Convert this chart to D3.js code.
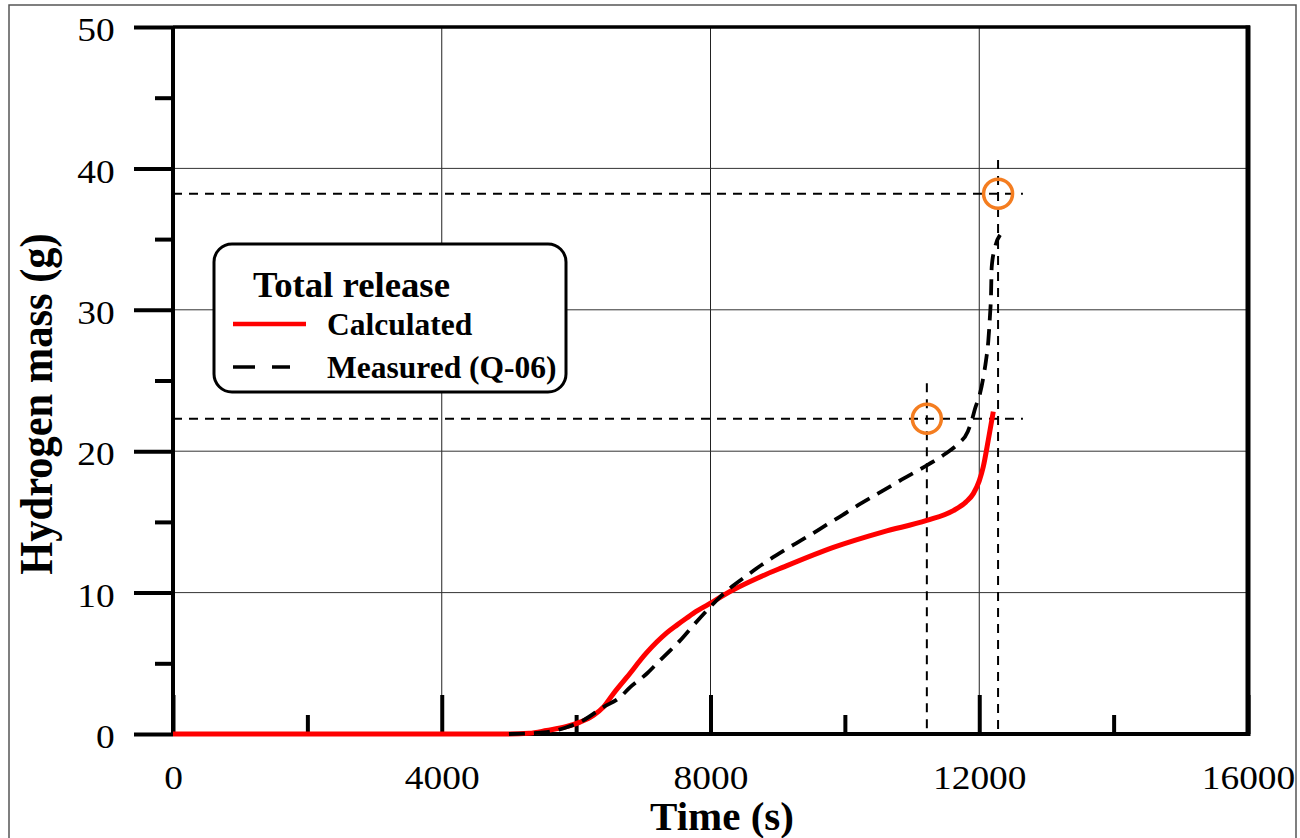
<!DOCTYPE html>
<html>
<head>
<meta charset="utf-8">
<script src="https://cdn.jsdelivr.net/npm/d3@7"></script>
<style>
  html, body { margin: 0; padding: 0; background: #fff; }
  svg { display: block; }
  text { font-family: "Liberation Serif", "Times New Roman", serif; fill: #000; }
</style>
</head>
<body>
<svg id="chart" width="1300" height="838"></svg>
<script>
// ---------------- data ----------------
const calcTime  = [0, 5000, 5300, 5560, 5860, 6058, 6256, 6405, 6554, 6753, 7050, 7200, 7348, 7500, 7646, 7800, 7944, 8340, 8688, 9084, 9828, 10572, 11218, 11614, 11800, 11912, 12000, 12060, 12135, 12209];
const calcMass  = [0, 0, 0.05, 0.25, 0.53, 0.84, 1.31, 1.9, 2.85, 4.0, 5.75, 6.5, 7.15, 7.7, 8.2, 8.7, 9.1, 10.2, 11.0, 11.8, 13.2, 14.3, 15.1, 15.8, 16.4, 17.0, 17.9, 18.9, 20.8, 22.8];

const measTime  = [5000, 5560, 5860, 6058, 6405, 6653, 6802, 7050, 7199, 7398, 7546, 7744, 7993, 8141, 8340, 8539, 8836, 9084, 9440, 9730, 9970, 10100, 10490, 10850, 11220, 11490, 11680, 11830, 11890, 11937, 12012, 12060, 12100, 12135, 12160, 12175, 12185, 12234, 12310];
const measMass  = [0, 0.13, 0.48, 0.84, 1.9, 2.6, 3.3, 4.26, 4.97, 5.9, 6.6, 7.68, 8.97, 9.68, 10.5, 11.2, 12.2, 12.95, 13.95, 14.8, 15.5, 15.9, 17.0, 18.0, 19.0, 19.8, 20.5, 21.4, 22.2, 23.0, 24.1, 25.2, 26.4, 27.8, 29.6, 31.0, 33.0, 34.4, 35.3];

const refLevels   = [22.3, 38.2];          // horizontal dashed guide lines
const refLevelEnd = 12650;                 // where they stop (s)
const refTimes    = [11220, 12280];        // vertical dashed guide lines
const refTops     = [24.8, 40.6];          // their top values (g)
const markTime    = [11220, 12280];        // orange circles
const markMass    = [22.3, 38.2];

const xMajor = [0, 4000, 8000, 12000, 16000];
const xMinor = [2000, 6000, 10000, 14000];
const yMajor = [0, 10, 20, 30, 40, 50];
const yMinor = [5, 15, 25, 35, 45];
const xGrid  = [4000, 8000, 12000];
const yGrid  = [10, 20, 30, 40];

const legendTitle = "Total release";
const legendItems = ["Calculated", "Measured (Q-06)"];
const xTitle = "Time (s)";
const yTitle = "Hydrogen mass (g)";

// ---------------- layout ----------------
const svg = d3.select("#chart");
const L = 173, R = 1248, T = 27, B = 734;
const x = d3.scaleLinear().domain([0, 16000]).range([L, R]);
const y = d3.scaleLinear().domain([0, 50]).range([B, T]);

svg.append("rect").attr("width", 1300).attr("height", 838).attr("fill", "#fff");

// outer frame
svg.append("rect").attr("x", 9).attr("y", 5).attr("width", 1287).attr("height", 900)
  .attr("fill", "none").attr("stroke", "#555").attr("stroke-width", 1.5);

// gridlines
svg.append("g").selectAll("line").data(xGrid).join("line")
  .attr("x1", d => x(d)).attr("x2", d => x(d)).attr("y1", T).attr("y2", B)
  .attr("stroke", "#222").attr("stroke-width", 1);
svg.append("g").selectAll("line").data(yGrid).join("line")
  .attr("x1", L).attr("x2", R).attr("y1", d => y(d)).attr("y2", d => y(d))
  .attr("stroke", "#333").attr("stroke-width", 1);

// top & right borders
svg.append("line").attr("x1", L).attr("x2", R + 2).attr("y1", T).attr("y2", T)
  .attr("stroke", "#000").attr("stroke-width", 3.5);
svg.append("line").attr("x1", R).attr("x2", R).attr("y1", T - 1.5).attr("y2", B + 2)
  .attr("stroke", "#000").attr("stroke-width", 5);

// reference dashed lines
const ref = svg.append("g").attr("stroke", "#000").attr("stroke-width", 2)
  .attr("stroke-dasharray", "9,7").attr("fill", "none");
ref.selectAll("line.h").data(refLevels).join("line").attr("class", "h")
  .attr("x1", x(0)).attr("x2", x(refLevelEnd)).attr("y1", d => y(d)).attr("y2", d => y(d));
ref.selectAll("line.v").data(refTimes).join("line").attr("class", "v")
  .attr("x1", d => x(d)).attr("x2", d => x(d)).attr("y1", (d, i) => y(refTops[i])).attr("y2", y(0));

// axes
const fs = 34;
const xAx = svg.append("g").attr("transform", `translate(0,${B})`)
  .call(d3.axisBottom(x).tickValues(xMajor).tickSize(-39).tickPadding(31).tickFormat(d3.format("d")));
xAx.select(".domain").attr("stroke-width", 4).attr("d", `M${L},0H${R + 2}`);
xAx.selectAll(".tick line").attr("stroke-width", 4);
xAx.selectAll(".tick text").attr("font-size", fs).attr("font-family", "Liberation Serif")
  .attr("transform", "scale(1.1,1)");

const xAxMin = svg.append("g").attr("transform", `translate(0,${B})`)
  .call(d3.axisBottom(x).tickValues(xMinor).tickSize(-19).tickFormat(""));
xAxMin.select(".domain").remove();
xAxMin.selectAll(".tick line").attr("stroke-width", 4);

const yAx = svg.append("g").attr("transform", `translate(${L},0)`)
  .call(d3.axisLeft(y).tickValues(yMajor).tickSize(39).tickPadding(14).tickFormat(d3.format("d")));
yAx.select(".domain").attr("stroke-width", 4).attr("d", `M0,${T - 1}V${B + 2}`);
yAx.selectAll(".tick line").attr("stroke-width", 4);
yAx.selectAll(".tick text").attr("font-size", fs).attr("font-family", "Liberation Serif")
  .attr("dy", "0.4em").attr("transform", "scale(1.1,1)");

const yAxMin = svg.append("g").attr("transform", `translate(${L},0)`)
  .call(d3.axisLeft(y).tickValues(yMinor).tickSize(18).tickFormat(""));
yAxMin.select(".domain").remove();
yAxMin.selectAll(".tick line").attr("stroke-width", 4);

// curves (on top of the axes)
const line = d3.line().x(d => x(d[0])).y(d => y(d[1])).curve(d3.curveMonotoneX);
const calc = calcTime.map((t, i) => [t, calcMass[i]]);
const meas = measTime.map((t, i) => [t, measMass[i]]);

svg.append("path").datum(calc).attr("d", line).attr("fill", "none")
  .attr("stroke", "#ff0000").attr("stroke-width", 5).attr("stroke-linejoin", "round");
svg.append("path").datum(meas).attr("d", line).attr("fill", "none")
  .attr("stroke", "#000").attr("stroke-width", 3.8).attr("stroke-dasharray", "16,9");

// circles
svg.append("g").selectAll("circle").data(markTime).join("circle")
  .attr("cx", d => x(d)).attr("cy", (d, i) => y(markMass[i])).attr("r", 14.5)
  .attr("fill", "none").attr("stroke", "#f47d20").attr("stroke-width", 3.5);

// axis titles
svg.append("text").attr("x", 722).attr("y", 830).attr("text-anchor", "middle")
  .attr("font-size", 41).attr("font-weight", "bold").text(xTitle);
svg.append("text").attr("transform", "translate(52,404) rotate(-90) scale(1,1.1)")
  .attr("text-anchor", "middle").attr("font-size", 42.5).attr("font-weight", "bold").text(yTitle);

// legend
const lg = svg.append("g");
lg.append("rect").attr("x", 214).attr("y", 244).attr("width", 352).attr("height", 148)
  .attr("rx", 18).attr("ry", 18).attr("fill", "#fff").attr("stroke", "#000").attr("stroke-width", 3);
lg.append("text").attr("transform", "translate(253,297) scale(1.05,1)")
  .attr("font-size", 35).attr("font-weight", "bold").text(legendTitle);
lg.append("line").attr("x1", 233).attr("x2", 306).attr("y1", 324).attr("y2", 324)
  .attr("stroke", "#ff0000").attr("stroke-width", 4.5);
lg.append("line").attr("x1", 233).attr("x2", 290).attr("y1", 367).attr("y2", 367)
  .attr("stroke", "#000").attr("stroke-width", 3.5).attr("stroke-dasharray", "22,17");
lg.selectAll("text.item").data(legendItems).join("text").attr("class", "item")
  .attr("x", 327).attr("y", (d, i) => 335 + i * 43).attr("font-size", 31.5).attr("font-weight", "bold")
  .text(d => d);
</script>
</body>
</html>
